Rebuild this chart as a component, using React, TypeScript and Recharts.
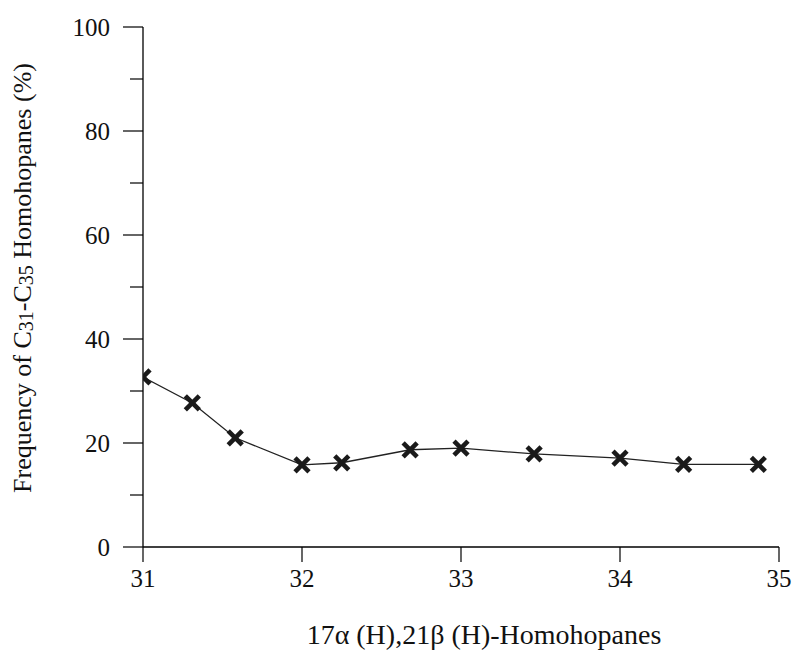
import React from 'react';
import { LineChart, Line, XAxis, YAxis } from 'recharts';

const homologues = [31.0, 31.31, 31.58, 32.0, 32.25, 32.68, 33.0, 33.46, 34.0, 34.4, 34.87];
const frequency = [32.7, 27.7, 21.0, 15.8, 16.2, 18.7, 19.0, 17.9, 17.1, 15.9, 15.9];
const xTicks = [31, 32, 33, 34, 35];
const yTicks = [0, 10, 20, 30, 40, 50, 60, 70, 80, 90, 100];
const yLabelled = [0, 20, 40, 60, 80, 100];

const data = homologues.map((x, i) => ({ x, y: frequency[i] }));

const FONT = '"Liberation Serif", "Times New Roman", serif';

const YTick = (props: any) => {
  const { x, y, payload } = props;
  const major = yLabelled.includes(payload.value);
  return (
    <g>
      <line x1={x} x2={x - (major ? 20 : 13)} y1={y} y2={y} stroke="#000" strokeWidth={1.2} />
      {major && (
        <text x={x - 33} y={y} textAnchor="end" dominantBaseline="central" fontSize={25} style={{ fontFamily: FONT }} fill="#111">
          {payload.value}
        </text>
      )}
    </g>
  );
};

const XTick = (props: any) => {
  const { x, y, payload } = props;
  return (
    <text x={x} y={y} dy="0.71em" textAnchor="middle" fontSize={25} style={{ fontFamily: FONT }} fill="#111">
      {payload.value}
    </text>
  );
};

const Cross = (props: any) => {
  const { cx, cy, index } = props;
  if (cx == null || cy == null) return null;
  const r = 7;
  return (
    <g key={`c${index}`}>
      <line x1={cx - r} y1={cy - r} x2={cx + r} y2={cy + r} stroke="#1a1a1a" strokeWidth={4.6} />
      <line x1={cx - r} y1={cy + r} x2={cx + r} y2={cy - r} stroke="#1a1a1a" strokeWidth={4.6} />
    </g>
  );
};

const XTitle = (props: any) => {
  const vb = props.viewBox || {};
  return (
    <text x={vb.x + vb.width / 2 + 23} y={vb.y + vb.height - 10} textAnchor="middle" fontSize={28} style={{ fontFamily: FONT }} fill="#111">
      17α (H),21β (H)-Homohopanes
    </text>
  );
};

const YTitle = (props: any) => {
  const vb = props.viewBox || {};
  const cx = vb.x + 22;
  const cy = vb.y + vb.height / 2 - 9;
  return (
    <text x={cx} y={cy} transform={`rotate(-90 ${cx} ${cy})`} textAnchor="middle" dominantBaseline="central" fontSize={26} style={{ fontFamily: FONT }} fill="#111">
      <tspan>Frequency of C</tspan>
      <tspan fontSize={20} dy={4}>31</tspan>
      <tspan dy={-4}>-C</tspan>
      <tspan fontSize={20} dy={4}>35</tspan>
      <tspan dy={-4}> Homohopanes (%)</tspan>
    </text>
  );
};

export default function App() {
  return (
    <div style={{ position: 'absolute', left: 0, top: 0, width: 794, height: 654, background: '#fff' }}>
      <LineChart width={794} height={654} data={data} margin={{ top: 27, right: 15, bottom: 0, left: 0 }}>
        <XAxis
          dataKey="x"
          type="number"
          domain={[31, 35]}
          ticks={xTicks}
          allowDataOverflow
          height={107}
          tickSize={15}
          tickMargin={7}
          tick={<XTick />}
          axisLine={{ stroke: '#000', strokeWidth: 1.3 }}
          tickLine={{ stroke: '#000', strokeWidth: 1.2 }}
          label={{ content: (p: any) => <XTitle {...p} /> }}
        />
        <XAxis
          xAxisId="top"
          orientation="top"
          dataKey="x"
          type="number"
          domain={[31, 35]}
          height={0}
          tick={false}
          tickLine={false}
          axisLine={{ stroke: '#000', strokeWidth: 1.3 }}
        />
        <YAxis
          type="number"
          domain={[0, 100]}
          ticks={yTicks}
          width={143}
          tickSize={0}
          tickMargin={0}
          tickLine={false}
          tick={<YTick />}
          interval={0}
          axisLine={{ stroke: '#000', strokeWidth: 1.3 }}
          label={{ content: (p: any) => <YTitle {...p} /> }}
        />
        <YAxis
          yAxisId="right"
          orientation="right"
          type="number"
          domain={[0, 100]}
          width={0}
          tick={false}
          tickLine={false}
          axisLine={{ stroke: '#000', strokeWidth: 1.3 }}
        />
        <Line
          dataKey="y"
          stroke="#222"
          strokeWidth={1.3}
          dot={<Cross />}
          activeDot={false}
          isAnimationActive={false}
        />
      </LineChart>
    </div>
  );
}
